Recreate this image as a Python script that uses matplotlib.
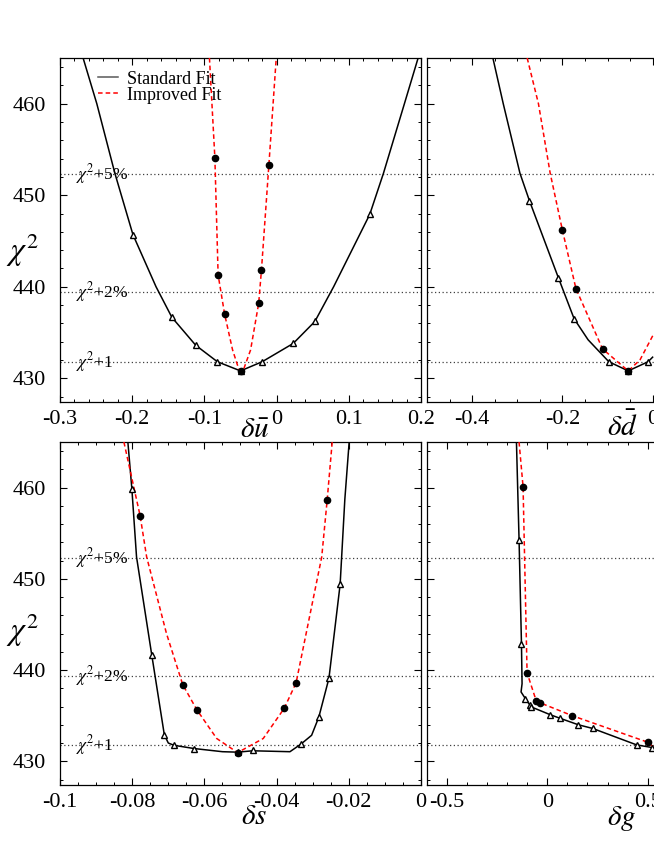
import numpy as np
import matplotlib
matplotlib.use('Agg')
from matplotlib import pyplot as plt
from matplotlib.ticker import MultipleLocator

plt.rcParams['font.family'] = ['Liberation Serif', 'DejaVu Serif']
plt.rcParams['mathtext.fontset'] = 'stix'
plt.rcParams['axes.unicode_minus'] = False

# reference levels: chi2_min+1, +2%, +5%
ref_levels = [431.8, 439.4, 452.3]
ref_labels = [r'$\chi^2$+1', r'$\chi^2$+2%', r'$\chi^2$+5%']

# --- delta u-bar ---
u_std_x = [-0.268, -0.249, -0.224, -0.199, -0.167, -0.145, -0.112, -0.082, -0.05,
           -0.02, 0.023, 0.053, 0.079, 0.129, 0.148, 0.177, 0.196]
u_std_y = [465, 460, 452.4, 445.7, 440, 436.65, 433.6, 431.8, 430.8,
           431.8, 433.8, 436.2, 440, 447.9, 452.4, 460, 465]
u_std_px = [-0.199, -0.145, -0.112, -0.082, -0.05, -0.02, 0.023, 0.053, 0.129]
u_std_py = [445.7, 436.65, 433.6, 431.8, 430.8, 431.8, 433.8, 436.2, 447.9]
u_imp_x = [-0.093, -0.0855, -0.081, -0.072, -0.061, -0.052, -0.049, -0.046, -0.036,
           -0.0248, -0.021, -0.0107, -0.0005]
u_imp_y = [465, 454.1, 441.3, 437.0, 433.1, 430.9, 430.8, 430.9, 433.1,
           438.2, 441.8, 453.3, 465]
u_imp_px = [-0.0855, -0.081, -0.072, -0.05, -0.0248, -0.021, -0.0107]
u_imp_py = [454.1, 441.3, 437.0, 430.8, 438.2, 441.8, 453.3]

# --- delta d-bar ---
d_std_x = [-0.354, -0.331, -0.294, -0.273, -0.209, -0.174, -0.143, -0.097, -0.054, -0.010, 0.0]
d_std_y = [465, 460, 452.4, 449.4, 441.0, 436.5, 434.2, 431.8, 430.8, 431.8, 432.3]
d_std_px = [-0.273, -0.209, -0.174, -0.097, -0.054, -0.010]
d_std_py = [449.4, 441.0, 436.5, 431.8, 430.8, 431.8]
d_imp_x = [-0.278, -0.253, -0.227, -0.200, -0.170, -0.111, -0.054, -0.028, 0.003]
d_imp_y = [465, 460, 452.4, 446.2, 439.8, 433.2, 430.8, 432.0, 434.9]
d_imp_px = [-0.200, -0.170, -0.111, -0.054]
d_imp_py = [446.2, 439.8, 433.2, 430.8]

# --- delta s ---
s_std_x = [-0.0812, -0.0801, -0.0788, -0.0746, -0.0711, -0.0700, -0.0684, -0.0629, -0.055,
           -0.0508, -0.0466, -0.0363, -0.0332, -0.0303, -0.0283, -0.0255, -0.0224, -0.0211, -0.0199]
s_std_y = [465, 459.9, 452.4, 441.7, 432.9, 432.0, 431.75, 431.4, 431.05,
           431.0, 431.15, 431.05, 431.9, 432.85, 434.85, 439.1, 449.4, 458.7, 465]
s_std_px = [-0.0801, -0.0746, -0.0711, -0.0684, -0.0629, -0.0508, -0.0466, -0.0332,
            -0.0283, -0.0255, -0.0224]
s_std_py = [459.9, 441.7, 432.9, 431.75, 431.4, 431.0, 431.2, 431.9, 434.85, 439.1, 449.4]
s_imp_x = [-0.0823, -0.0778, -0.076, -0.0705, -0.066, -0.0621, -0.0566, -0.0508, -0.0437,
           -0.0379, -0.0346, -0.0275, -0.026, -0.0246]
s_imp_y = [465, 456.9, 452.4, 444.0, 438.4, 435.65, 432.5, 430.95, 432.5,
           435.8, 438.6, 452.4, 458.6, 465]
s_imp_px = [-0.0778, -0.066, -0.0621, -0.0508, -0.0379, -0.0346, -0.026]
s_imp_py = [456.9, 438.4, 435.65, 430.95, 435.8, 438.6, 458.6]

# --- delta g ---
g_std_x = [-0.154, -0.141, -0.129, -0.126, -0.131, -0.109, -0.088, -0.079, 0.015,
           0.065, 0.155, 0.226, 0.445, 0.524]
g_std_y = [465, 454.3, 442.9, 438.5, 437.6, 436.85, 436.2, 435.95, 435.1,
           434.7, 434.0, 433.6, 431.8, 431.5]
g_std_px = [-0.141, -0.129, -0.109, -0.088, -0.079, 0.015, 0.065, 0.155, 0.226, 0.445, 0.524]
g_std_py = [454.3, 442.9, 436.85, 436.2, 435.95, 435.1, 434.7, 434.0, 433.6, 431.8, 431.5]
g_imp_x = [-0.141, -0.121, -0.101, -0.055, -0.035, 0.124, 0.4995, 0.528]
g_imp_y = [465, 460.1, 439.7, 436.6, 436.4, 435.0, 432.1, 431.6]
g_imp_px = [-0.121, -0.101, -0.055, -0.035, 0.124, 0.4995]
g_imp_py = [460.1, 439.7, 436.6, 436.4, 435.0, 432.1]

W, H = 654, 846
fig = plt.figure(figsize=(W / 100, H / 100), dpi=100)

def box(l, t, r, b):
    return [l / W, 1 - b / H, (r - l) / W, (b - t) / H]

panels = [
    dict(pos=box(60, 58, 421, 402), xlim=(-0.3, 0.2), major=0.1, minor=0.02,
         xlab=r'$\delta\bar{u}$', lab=(0.54, -0.084), left=True,
         std=(u_std_x, u_std_y, u_std_px, u_std_py), imp=(u_imp_x, u_imp_y, u_imp_px, u_imp_py),
         ylab=(-0.105, 0.44), fmt='%.1f'),
    dict(pos=box(427, 58, 788, 402), xlim=(-0.5, 0.3), major=0.2, minor=0.05,
         xlab=r'$\delta\bar{d}$', lab=(0.54, -0.073), left=False,
         std=(d_std_x, d_std_y, d_std_px, d_std_py), imp=(d_imp_x, d_imp_y, d_imp_px, d_imp_py),
         fmt='%.1f'),
    dict(pos=box(60, 442, 421, 785), xlim=(-0.1, 0.0), major=0.02, minor=0.005,
         xlab=r'$\delta s$', lab=(0.537, -0.093), left=True,
         std=(s_std_x, s_std_y, s_std_px, s_std_py), imp=(s_imp_x, s_imp_y, s_imp_px, s_imp_py),
         ylab=(-0.105, 0.45), fmt='%.2f'),
    dict(pos=box(427, 442, 788, 785), xlim=(-0.6, 1.2), major=0.5, minor=0.1,
         xlab=r'$\delta g$', lab=(0.54, -0.099), left=False,
         std=(g_std_x, g_std_y, g_std_px, g_std_py), imp=(g_imp_x, g_imp_y, g_imp_px, g_imp_py),
         fmt='%.1f'),
]

def fmt_tick(v, fmt):
    if abs(v) < 1e-9:
        return '0'
    s = fmt % v
    s = s.rstrip('0').rstrip('.') if '.' in s else s
    return s

for i, p in enumerate(panels):
    ax = fig.add_axes(p['pos'])
    ax.set_xlim(*p['xlim'])
    ax.set_ylim(427.4, 465)
    for lev in ref_levels:
        ax.axhline(lev, color='0.25', ls=(0, (1, 2)), lw=0.9, zorder=1)
    sx, sy, spx, spy = p['std']
    ix, iy, ipx, ipy = p['imp']
    ax.plot(sx, sy, color='black', lw=1.1, label='Standard Fit', zorder=3)
    ax.plot(ix, iy, color='red', ls=(0, (3, 2)), lw=1.1, label='Improved Fit', zorder=3)
    ax.plot(ipx, ipy, 'o', color='black', ms=4.5, zorder=5)
    ax.plot(spx, spy, '^', mfc='white', mec='black', mew=1.0, ms=5, zorder=4)

    ax.xaxis.set_major_locator(MultipleLocator(p['major']))
    ax.xaxis.set_minor_locator(MultipleLocator(p['minor']))
    ax.yaxis.set_major_locator(MultipleLocator(10))
    ax.yaxis.set_minor_locator(MultipleLocator(2))
    ax.tick_params(which='both', direction='in', top=True, right=True, labelsize=16)
    ax.tick_params(which='major', length=5, width=0.8)
    ax.tick_params(which='minor', length=2.5, width=0.7)
    ax.tick_params(axis='x', pad=6)
    ax.tick_params(axis='y', pad=10)
    ticks = ax.get_xticks()
    ticks = [t for t in ticks if p['xlim'][0] - 1e-9 <= t <= p['xlim'][1] + 1e-9]
    ax.set_xticks(ticks)
    ax.set_xticklabels([fmt_tick(t, p['fmt']) for t in ticks])
    for sp in ax.spines.values():
        sp.set_linewidth(0.9)

    ax.set_xlabel(p['xlab'], fontsize=21)
    ax.xaxis.set_label_coords(*p['lab'])
    ax.xaxis.label.set_va('center')

    if p['left']:
        ax.set_ylabel(r'$\chi^2$', fontsize=23, rotation=0)
        ax.yaxis.set_label_coords(*p['ylab'])
        ax.yaxis.label.set_va('center')
        for lev, txt in zip(ref_levels, ref_labels):
            ax.text(0.045, lev, txt, transform=ax.get_yaxis_transform(),
                    fontsize=12.5, va='center', ha='left', zorder=2)
    else:
        ax.tick_params(axis='y', labelleft=False)

    if i == 0:
        leg = ax.legend(loc='upper left', bbox_to_anchor=(0.07, 1.0), frameon=False,
                        fontsize=13, handlelength=1.1, handletextpad=0.5, labelspacing=-0.05,
                        borderaxespad=0.3)
        leg.get_lines()[0].set_color('0.35')

fig.savefig('out.png', dpi=100)
